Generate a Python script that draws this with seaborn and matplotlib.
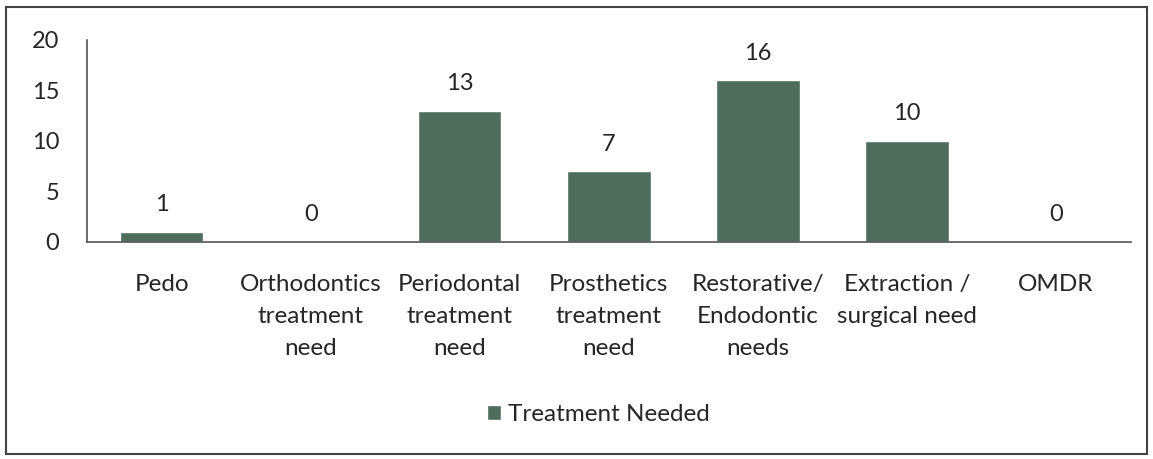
import matplotlib; matplotlib.use('Agg')
import matplotlib.pyplot as plt
import seaborn as sns
import pandas as pd
from matplotlib.patches import Rectangle

categories = ["Pedo", "Orthodontics\ntreatment\nneed", "Periodontal\ntreatment\nneed",
              "Prosthetics\ntreatment\nneed", "Restorative/\nEndodontic\nneeds",
              "Extraction /\nsurgical need", "OMDR"]
values = [1, 0, 13, 7, 16, 10, 0]
series_name = "Treatment Needed"
yticks = [0, 5, 10, 15, 20]

BAR_COLOR = "#4f6d5d"
TEXT_COLOR = "#262626"

sns.set_style("white")
plt.rcParams['font.family'] = ['Lato', 'DejaVu Sans']

df = pd.DataFrame({"category": categories, "value": values, "series": series_name})

fig = plt.figure(figsize=(11.53, 4.59), dpi=100)
ax = fig.add_axes([0.0755, 0.473, 0.905, 0.44])
sns.barplot(data=df, x="category", y="value", hue="series", palette=[BAR_COLOR],
            width=0.56, ax=ax, saturation=1)

ax.set_ylim(0, 20)
ax.set_yticks(yticks)
ax.set_xlim(-0.5, len(categories) - 0.5)
ax.set_xlabel(""); ax.set_ylabel("")
ax.set_xticks(range(len(categories)))
ax.set_xticklabels(categories, fontsize=17.5, color=TEXT_COLOR, linespacing=1.65, va='top')
ax.tick_params(axis='y', length=0, pad=20, labelsize=17, labelcolor=TEXT_COLOR)
ax.tick_params(axis='x', length=0, pad=23)

for s in ['top', 'right']:
    ax.spines[s].set_visible(False)
for s in ['left', 'bottom']:
    ax.spines[s].set_color('#555555')
    ax.spines[s].set_linewidth(1.2)

for i, v in enumerate(values):
    ax.annotate(str(v), (i, v), xytext=(0, 12), textcoords='offset points',
                ha='center', va='bottom', fontsize=17, color=TEXT_COLOR)

leg = ax.legend(loc='center', bbox_to_anchor=(0.49, -0.855), frameon=False,
                fontsize=17.5, handlelength=0.55, handleheight=0.55, handletextpad=0.3)
for t in leg.get_texts():
    t.set_color(TEXT_COLOR)

fig.patches.append(Rectangle((0.005, 0.01), 0.99, 0.975, transform=fig.transFigure,
                             fill=False, edgecolor='#444444', linewidth=1.5))

fig.savefig("out.png", dpi=100)
